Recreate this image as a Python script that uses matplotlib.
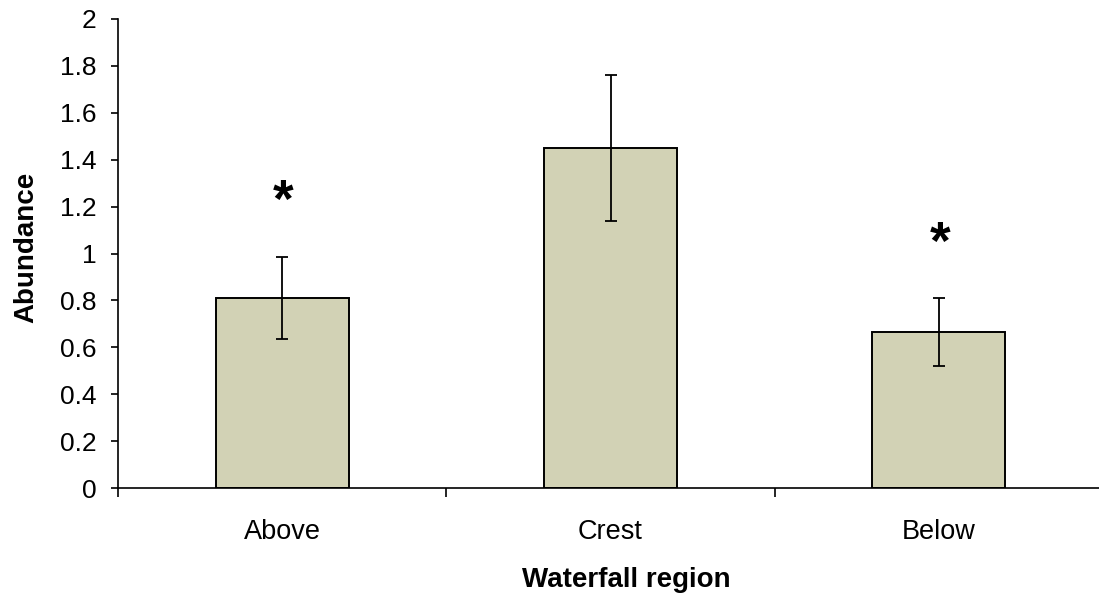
import matplotlib
matplotlib.use("Agg")
import matplotlib.pyplot as plt

# --- data ---
regions = ["Above", "Crest", "Below"]
abundance = [0.81, 1.45, 0.665]
errors = [0.175, 0.31, 0.145]
star_y = [1.28, None, 1.10]   # centres of the significance marks
y_ticks = [0, 0.2, 0.4, 0.6, 0.8, 1, 1.2, 1.4, 1.6, 1.8, 2]
y_tick_labels = ["0", "0.2", "0.4", "0.6", "0.8", "1", "1.2", "1.4", "1.6", "1.8", "2"]

plt.rcParams['font.family'] = ['Liberation Sans', 'DejaVu Sans']

fig = plt.figure(figsize=(10.99, 5.96), dpi=100)
ax = fig.add_axes([118 / 1099, 1 - 488 / 596, (1103 - 118) / 1099, (488 - 19) / 596])

x = list(range(len(regions)))
ax.bar(x, abundance, width=0.405, color='#d2d2b5', edgecolor='black', linewidth=1.4, zorder=2)
ax.errorbar(x, abundance, yerr=errors, fmt='none', ecolor='black', elinewidth=1.3,
            capsize=4.5, capthick=1.3, zorder=3)

# asterisk glyph sits high on the line, so shift the baseline down
for xi, sy in zip(x, star_y):
    if sy is not None:
        ax.annotate("*", xy=(xi, sy), xytext=(1, -21), textcoords='offset points',
                    ha='center', va='baseline', fontsize=38, fontweight='bold')

ax.set_xlim(-0.5, 2.5)
ax.set_ylim(0, 2)

ax.spines['top'].set_visible(False)
ax.spines['right'].set_visible(False)
ax.spines['left'].set_linewidth(1.2)
ax.spines['bottom'].set_linewidth(1.2)

ax.set_yticks(y_ticks)
ax.set_yticklabels(y_tick_labels, fontsize=19)
ax.tick_params(axis='y', direction='out', length=5, width=1.2, pad=10.5)

# category boundaries get the tick marks, names sit in between
ax.set_xticks([-0.5, 0.5, 1.5, 2.5])
ax.set_xticklabels([])
ax.tick_params(axis='x', which='major', direction='out', length=6.5, width=1.2)
ax.set_xticks(x, minor=True)
ax.set_xticklabels(regions, minor=True, fontsize=19.5)
ax.tick_params(axis='x', which='minor', length=0, pad=22)

ax.set_ylabel("Abundance", fontsize=20, fontweight='bold')
ax.yaxis.set_label_coords(-0.080, 0.512)
ax.set_xlabel("Waterfall region", fontsize=20, fontweight='bold')
ax.xaxis.set_label_coords(0.516, -0.168)

fig.savefig("out.png", dpi=100)
